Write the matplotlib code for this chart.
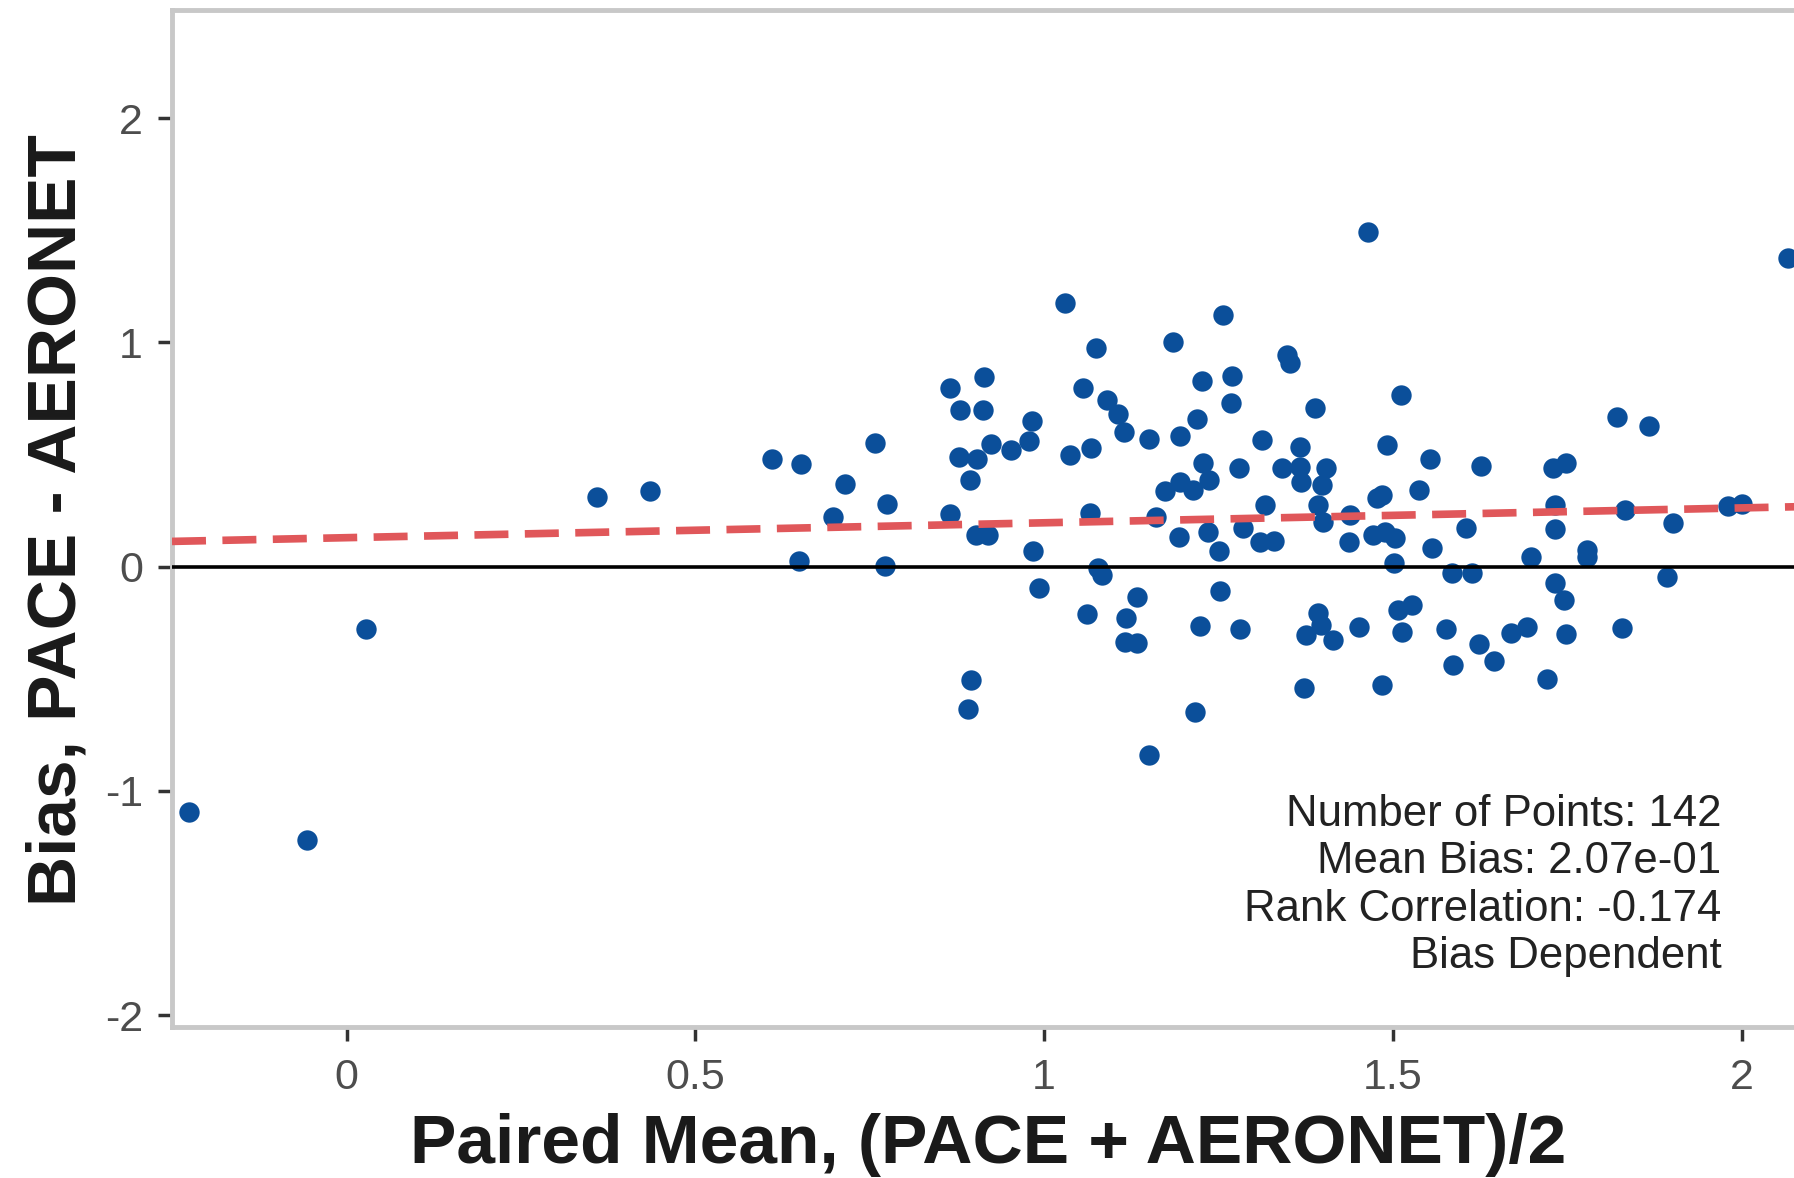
import matplotlib
matplotlib.use('Agg')
import matplotlib.pyplot as plt

plt.rcParams['font.family'] = ['Liberation Sans', 'DejaVu Sans']

# paired mean (x) and bias (y)
paired_mean = [
    -0.226, -0.057, 0.028, 0.359, 0.435, 0.610, 0.652, 0.649, 0.714, 0.758,
    0.698, 0.775, 0.772, 0.865, 0.914, 0.880, 0.912, 0.983, 0.978, 0.953,
    0.924, 0.904, 0.878, 0.894, 1.030, 1.037, 0.865, 0.903, 0.919, 0.984,
    0.993, 0.895, 0.891, 1.465, 1.256, 1.074, 1.185, 1.348, 1.353, 1.056,
    1.226, 1.270, 1.268, 1.090, 1.106, 1.115, 1.151, 1.195, 1.220, 1.389,
    1.512, 1.067, 1.312, 1.367, 1.341, 1.367, 1.369, 1.405, 1.398, 1.393,
    1.492, 1.553, 1.538, 1.477, 1.484, 1.228, 1.236, 1.214, 1.195, 1.173,
    1.279, 1.317, 1.066, 1.161, 1.438, 1.400, 1.286, 1.193, 1.235, 1.251,
    1.310, 1.330, 1.437, 1.472, 1.489, 1.503, 1.556, 1.502, 1.078, 1.083,
    1.134, 1.061, 1.117, 1.116, 1.133, 1.253, 1.224, 1.281, 1.393, 1.397,
    1.375, 1.415, 1.451, 1.508, 1.527, 1.513, 1.373, 1.484, 1.217, 1.150,
    1.733, 1.833, 1.981, 2.000, 1.605, 1.733, 1.902, 1.698, 1.779, 1.779,
    1.585, 1.613, 1.893, 1.733, 1.745, 1.576, 1.670, 1.693, 1.749, 1.828,
    1.624, 1.645, 1.587, 1.721, 2.066, 1.822, 1.868, 1.626, 1.730, 1.748,
]
bias = [
    -1.096, -1.218, -0.278, 0.309, 0.335, 0.478, 0.456, 0.025, 0.368, 0.553,
    0.220, 0.279, 0.003, 0.798, 0.846, 0.700, 0.700, 0.649, 0.560, 0.520,
    0.547, 0.481, 0.490, 0.388, 1.177, 0.496, 0.235, 0.141, 0.141, 0.071,
    -0.094, -0.507, -0.637, 1.494, 1.122, 0.974, 1.003, 0.944, 0.909, 0.798,
    0.828, 0.850, 0.731, 0.743, 0.681, 0.599, 0.568, 0.583, 0.657, 0.709,
    0.765, 0.528, 0.565, 0.535, 0.438, 0.446, 0.379, 0.438, 0.364, 0.275,
    0.542, 0.478, 0.342, 0.305, 0.319, 0.464, 0.386, 0.342, 0.379, 0.339,
    0.438, 0.275, 0.238, 0.220, 0.230, 0.200, 0.171, 0.134, 0.153, 0.071,
    0.111, 0.116, 0.111, 0.141, 0.156, 0.126, 0.082, 0.015, -0.008, -0.037,
    -0.134, -0.211, -0.228, -0.335, -0.339, -0.107, -0.264, -0.280, -0.206, -0.260,
    -0.305, -0.327, -0.268, -0.194, -0.171, -0.290, -0.540, -0.528, -0.647, -0.840,
    0.275, 0.252, 0.270, 0.279, 0.171, 0.166, 0.193, 0.044, 0.074, 0.045,
    -0.030, -0.030, -0.045, -0.072, -0.149, -0.280, -0.298, -0.268, -0.301, -0.275,
    -0.347, -0.420, -0.439, -0.503, 1.375, 0.669, 0.628, 0.449, 0.438, 0.461,
]

# linear fit of bias against paired mean
fit_intercept = 0.129
fit_slope = 0.0664

stats_lines = [
    'Number of Points: 142',
    'Mean Bias: 2.07e-01',
    'Rank Correlation: -0.174',
    'Bias Dependent',
]

x_ticks = [0, 0.5, 1, 1.5, 2]
x_tick_labels = ['0', '0.5', '1', '1.5', '2']
y_ticks = [-2, -1, 0, 1, 2]
y_tick_labels = ['-2', '-1', '0', '1', '2']

W, H = 1794, 1178
fig = plt.figure(figsize=(W / 100, H / 100), dpi=100)
ax = fig.add_axes([172 / W, 1 - 1027 / H, (1804 - 172) / W, (1027 - 10) / H])

ax.scatter(paired_mean, bias, s=215, color='#0b4f9a', linewidths=0, zorder=2)
ax.axhline(0, color='black', linewidth=2.6, zorder=3)
ax.axline((0, fit_intercept), slope=fit_slope, color='#e0575a', linewidth=5.5,
          dashes=(4.45, 2.15), zorder=4)

ax.set_xlim(-0.2502, 2.0896)
ax.set_ylim(-2.0535, 2.4826)
ax.set_xticks(x_ticks, x_tick_labels)
ax.set_yticks(y_ticks, y_tick_labels)
ax.tick_params(axis='both', length=10, width=2.5, color='#333333',
               labelcolor='#4d4d4d', labelsize=31)
ax.tick_params(axis='x', pad=12)
ax.tick_params(axis='y', pad=11)

for side in ['left', 'top', 'bottom']:
    ax.spines[side].set_color('#c8c8c8')
    ax.spines[side].set_linewidth(3.5)
ax.spines['right'].set_visible(False)

for i, line in enumerate(stats_lines):
    ax.annotate(line, xy=(1.971, -1.157), xytext=(0, -34.1 * i),
                textcoords='offset points', ha='right', va='baseline',
                fontsize=31.5, color='#222222')

fig.text(988 / W, 1 - 1163 / H, 'Paired Mean, (PACE + AERONET)/2',
         ha='center', va='baseline', fontsize=50, fontweight='bold', color='#1a1a1a')
fig.text(58 / W, 1 - 520 / H, 'Bias, PACE - AERONET', rotation=90,
         ha='center', va='center', fontsize=50, fontweight='bold', color='#1a1a1a')

fig.savefig('out.png', dpi=100)
